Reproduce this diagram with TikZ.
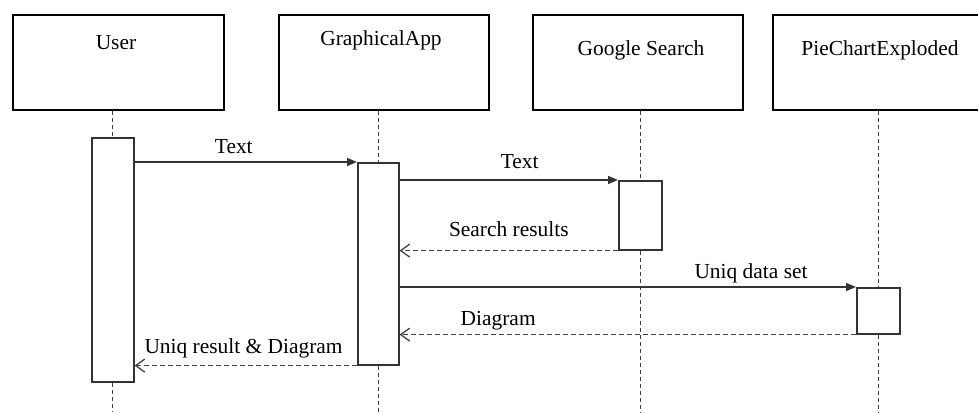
\documentclass[tikz,border=0pt]{standalone}
\usepackage{fontspec}
\setmainfont{Liberation Serif}
\usetikzlibrary{arrows.meta}
\begin{document}
\begin{tikzpicture}[x=1bp,y=-1bp,
  font=\fontsize{21.5}{24}\selectfont,
  actor/.style={draw=black, line width=2.4bp, rectangle, inner sep=0pt, anchor=north west},
  actlbl/.style={anchor=base, inner sep=0pt},
  activ/.style={draw=black!80, line width=1.6bp, fill=white, rectangle, inner sep=0pt, anchor=north west},
  life/.style={draw=black!75, line width=1.3bp, dash pattern=on 4bp off 3bp},
  call/.style={draw=black!80, line width=1.6bp, -{Triangle[length=10bp,width=8bp]}},
  reply/.style={draw=black!75, line width=1.3bp, dash pattern=on 5bp off 3bp, -{Straight Barb[length=9bp,width=13bp,line width=1.3bp]}},
  msglbl/.style={anchor=base, inner sep=0pt}
]
\clip (0,0) rectangle (978,412);
% actor boxes
\node[actor, minimum width=211bp, minimum height=95bp] (user) at (12,14) {};
\node[actor, minimum width=210bp, minimum height=95bp] (app) at (278,14) {};
\node[actor, minimum width=210bp, minimum height=95bp] (goo) at (532,14) {};
\node[actor, minimum width=230bp, minimum height=95bp] (pie) at (772,14) {};
\node[actlbl] (userl) at (116,49) {User};
\node[actlbl] (appl) at (381,45) {GraphicalApp};
\node[actlbl] (gool) at (641,55) {Google Search};
\node[actlbl] (piel) at (880,55) {PieChartExploded};
% activation boxes
\node[activ, minimum width=42bp, minimum height=244bp] (ua) at (91,137) {};
\node[activ, minimum width=41bp, minimum height=202bp] (aa) at (357,162) {};
\node[activ, minimum width=43bp, minimum height=69bp] (ga) at (618,180) {};
\node[activ, minimum width=43bp, minimum height=46bp] (pa) at (856,287) {};
% bottom ends of lifelines
\coordinate (userb) at (ua.south |- 0,412);
\coordinate (appb) at (aa.south |- 0,412);
\coordinate (goob) at (ga.south |- 0,412);
\coordinate (pieb) at (pa.south |- 0,412);
% lifelines
\draw[life] (user.south -| ua.north) -- (ua.north);
\draw[life] (ua.south) -- (userb);
\draw[life] (app.south -| aa.north) -- (aa.north);
\draw[life] (aa.south) -- (appb);
\draw[life] (goo.south -| ga.north) -- (ga.north);
\draw[life] (ga.south) -- (goob);
\draw[life] (pie.south -| pa.north) -- (pa.north);
\draw[life] (pa.south) -- (pieb);
% messages
\draw[call] (ua.east |- aa.north west) -- node[msglbl, pos=0.446, yshift=9bp] (m1) {Text} (aa.north west);
\draw[call] (aa.east |- ga.north west) -- node[msglbl, pos=0.55, yshift=12bp] (m2) {Text} (ga.north west);
\draw[reply] (ga.south west) -- node[msglbl, pos=0.5, yshift=14bp] (m3) {Search results} (aa.east |- ga.south west);
\draw[call] (aa.east |- pa.north west) -- node[msglbl, pos=0.77, yshift=9bp] (m4) {Uniq data set} (pa.north west);
\draw[reply] (pa.south west) -- node[msglbl, pos=0.784, yshift=9bp] (m5) {Diagram} (aa.east |- pa.south west);
\draw[reply] (aa.south west) -- node[msglbl, pos=0.51, yshift=12bp] (m6) {Uniq result \& Diagram} (ua.east |- aa.south west);
\end{tikzpicture}
\end{document}
